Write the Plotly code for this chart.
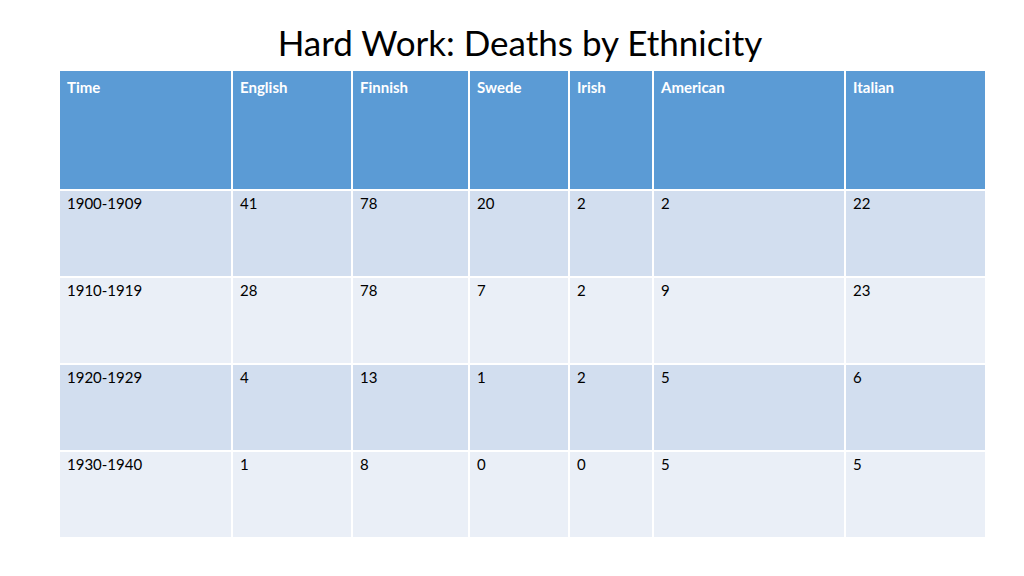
import plotly.graph_objects as go

columns = ["Time", "English", "Finnish", "Swede", "Irish", "American", "Italian"]
periods = ["1900-1909", "1910-1919", "1920-1929", "1930-1940"]
english = [41, 28, 4, 1]
finnish = [78, 78, 13, 8]
swede = [20, 7, 1, 0]
irish = [2, 2, 2, 0]
american = [2, 9, 5, 5]
italian = [22, 23, 6, 5]

widths = [173, 120, 117, 100, 84, 192, 141]
row_colors = ["#D2DEEF", "#EAEFF7", "#D2DEEF", "#EAEFF7"]

fig = go.Figure(go.Table(
    columnwidth=widths,
    domain=dict(x=[51/1024, 978/1024], y=[1-532/576, 1-62/576]),
    header=dict(values=[f"<b>{c}</b>" for c in columns],
                fill_color="#5B9BD5", line=dict(color="white", width=2),
                align="left", height=120,
                font=dict(family="Lato", size=15, color="white")),
    cells=dict(values=[periods, english, finnish, swede, irish, american, italian],
               fill_color=[row_colors]*7, line=dict(color="white", width=2),
               align="left", height=87,
               font=dict(family="Lato", size=15, color="black")),
))
fig.update_layout(
    width=1024, height=576, margin=dict(l=0, r=0, t=0, b=0),
    paper_bgcolor="white",
    title=dict(text="Hard Work: Deaths by Ethnicity", x=0.5, xanchor="center",
               y=1-36/576, yanchor="middle",
               font=dict(family="Lato", size=35, color="black")),
)
fig.write_html("out.html")
